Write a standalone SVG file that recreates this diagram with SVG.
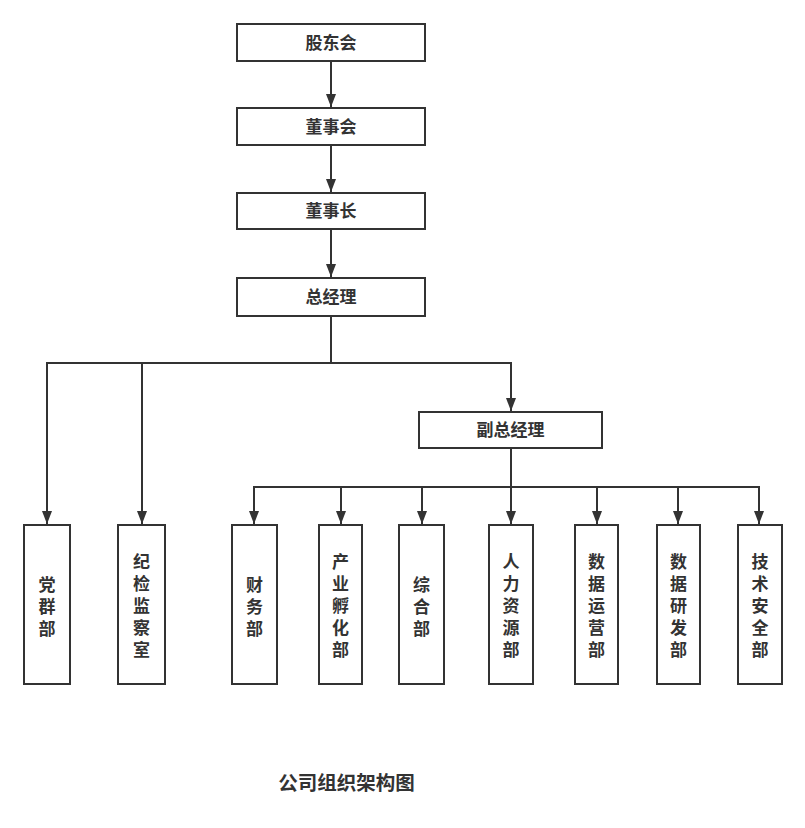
<svg xmlns="http://www.w3.org/2000/svg" width="805" height="828" viewBox="0 0 805 828">
<style>
.box{fill:#fff;stroke:#333;stroke-width:2}
.t{font-family:"Noto Sans CJK SC","Noto Sans",sans-serif;font-weight:bold;font-size:17px;fill:#333;text-anchor:middle}
.title{font-family:"Noto Sans CJK SC","Noto Sans",sans-serif;font-weight:bold;font-size:19.5px;fill:#333;text-anchor:middle}
.c{fill:none;stroke:#333;stroke-width:2}
</style>
<defs>
<marker id="ah" viewBox="0 0 13 10" refX="13" refY="5" markerWidth="13" markerHeight="10" markerUnits="userSpaceOnUse" orient="auto">
<path d="M0,0 L13,5 L0,10 Z" fill="#333"/>
</marker>
</defs>
<rect width="805" height="828" fill="#fff"/>
<g id="connectors">
<path class="c" d="M331,61 V107" marker-end="url(#ah)"/>
<path class="c" d="M331,145 V192" marker-end="url(#ah)"/>
<path class="c" d="M331,229 V277" marker-end="url(#ah)"/>
<path class="c" d="M331,316 V363 H47 V524" marker-end="url(#ah)"/>
<path class="c" d="M331,316 V363 H142 V524" marker-end="url(#ah)"/>
<path class="c" d="M331,316 V363 H511 V411" marker-end="url(#ah)"/>
<path class="c" d="M511,448 V487 H254 V524" marker-end="url(#ah)"/>
<path class="c" d="M511,448 V487 H341 V524" marker-end="url(#ah)"/>
<path class="c" d="M511,448 V487 H422 V524" marker-end="url(#ah)"/>
<path class="c" d="M511,448 V524" marker-end="url(#ah)"/>
<path class="c" d="M511,448 V487 H597 V524" marker-end="url(#ah)"/>
<path class="c" d="M511,448 V487 H678 V524" marker-end="url(#ah)"/>
<path class="c" d="M511,448 V487 H759 V524" marker-end="url(#ah)"/>
</g>
<g id="n-gudonghui"><rect class="box" x="237" y="24" width="188" height="37"/><text class="t" x="331" y="48.5">股东会</text></g>
<g id="n-dongshihui"><rect class="box" x="237" y="108" width="188" height="37"/><text class="t" x="331" y="132.5">董事会</text></g>
<g id="n-dongshizhang"><rect class="box" x="237" y="193" width="188" height="36"/><text class="t" x="331" y="217">董事长</text></g>
<g id="n-zongjingli"><rect class="box" x="237" y="278" width="188" height="38"/><text class="t" x="331" y="303">总经理</text></g>
<g id="n-fuzongjingli"><rect class="box" x="419" y="412" width="183" height="36"/><text class="t" x="510.5" y="436">副总经理</text></g>
<g id="n-dangqun"><rect class="box" x="24" y="525" width="46" height="159"/>
<text class="t"><tspan x="47" y="591">党</tspan><tspan x="47" y="613">群</tspan><tspan x="47" y="635">部</tspan></text></g>
<g id="n-jijian"><rect class="box" x="118" y="525" width="47" height="159"/>
<text class="t"><tspan x="141.5" y="568">纪</tspan><tspan x="141.5" y="590">检</tspan><tspan x="141.5" y="612">监</tspan><tspan x="141.5" y="634">察</tspan><tspan x="141.5" y="656">室</tspan></text></g>
<g id="n-caiwu"><rect class="box" x="232" y="525" width="45" height="159"/>
<text class="t"><tspan x="254.5" y="591">财</tspan><tspan x="254.5" y="613">务</tspan><tspan x="254.5" y="635">部</tspan></text></g>
<g id="n-chanye"><rect class="box" x="319" y="525" width="43" height="159"/>
<text class="t"><tspan x="340.5" y="568">产</tspan><tspan x="340.5" y="590">业</tspan><tspan x="340.5" y="612">孵</tspan><tspan x="340.5" y="634">化</tspan><tspan x="340.5" y="656">部</tspan></text></g>
<g id="n-zonghe"><rect class="box" x="399" y="525" width="45" height="159"/>
<text class="t"><tspan x="421.5" y="591">综</tspan><tspan x="421.5" y="613">合</tspan><tspan x="421.5" y="635">部</tspan></text></g>
<g id="n-renli"><rect class="box" x="489" y="525" width="44" height="159"/>
<text class="t"><tspan x="511" y="568">人</tspan><tspan x="511" y="590">力</tspan><tspan x="511" y="612">资</tspan><tspan x="511" y="634">源</tspan><tspan x="511" y="656">部</tspan></text></g>
<g id="n-shujuyunying"><rect class="box" x="575" y="525" width="43" height="159"/>
<text class="t"><tspan x="596.5" y="568">数</tspan><tspan x="596.5" y="590">据</tspan><tspan x="596.5" y="612">运</tspan><tspan x="596.5" y="634">营</tspan><tspan x="596.5" y="656">部</tspan></text></g>
<g id="n-shujuyanfa"><rect class="box" x="657" y="525" width="43" height="159"/>
<text class="t"><tspan x="678.5" y="568">数</tspan><tspan x="678.5" y="590">据</tspan><tspan x="678.5" y="612">研</tspan><tspan x="678.5" y="634">发</tspan><tspan x="678.5" y="656">部</tspan></text></g>
<g id="n-jishu"><rect class="box" x="738" y="525" width="44" height="159"/>
<text class="t"><tspan x="760" y="568">技</tspan><tspan x="760" y="590">术</tspan><tspan x="760" y="612">安</tspan><tspan x="760" y="634">全</tspan><tspan x="760" y="656">部</tspan></text></g>
<text class="title" x="346.5" y="790">公司组织架构图</text>
</svg>
